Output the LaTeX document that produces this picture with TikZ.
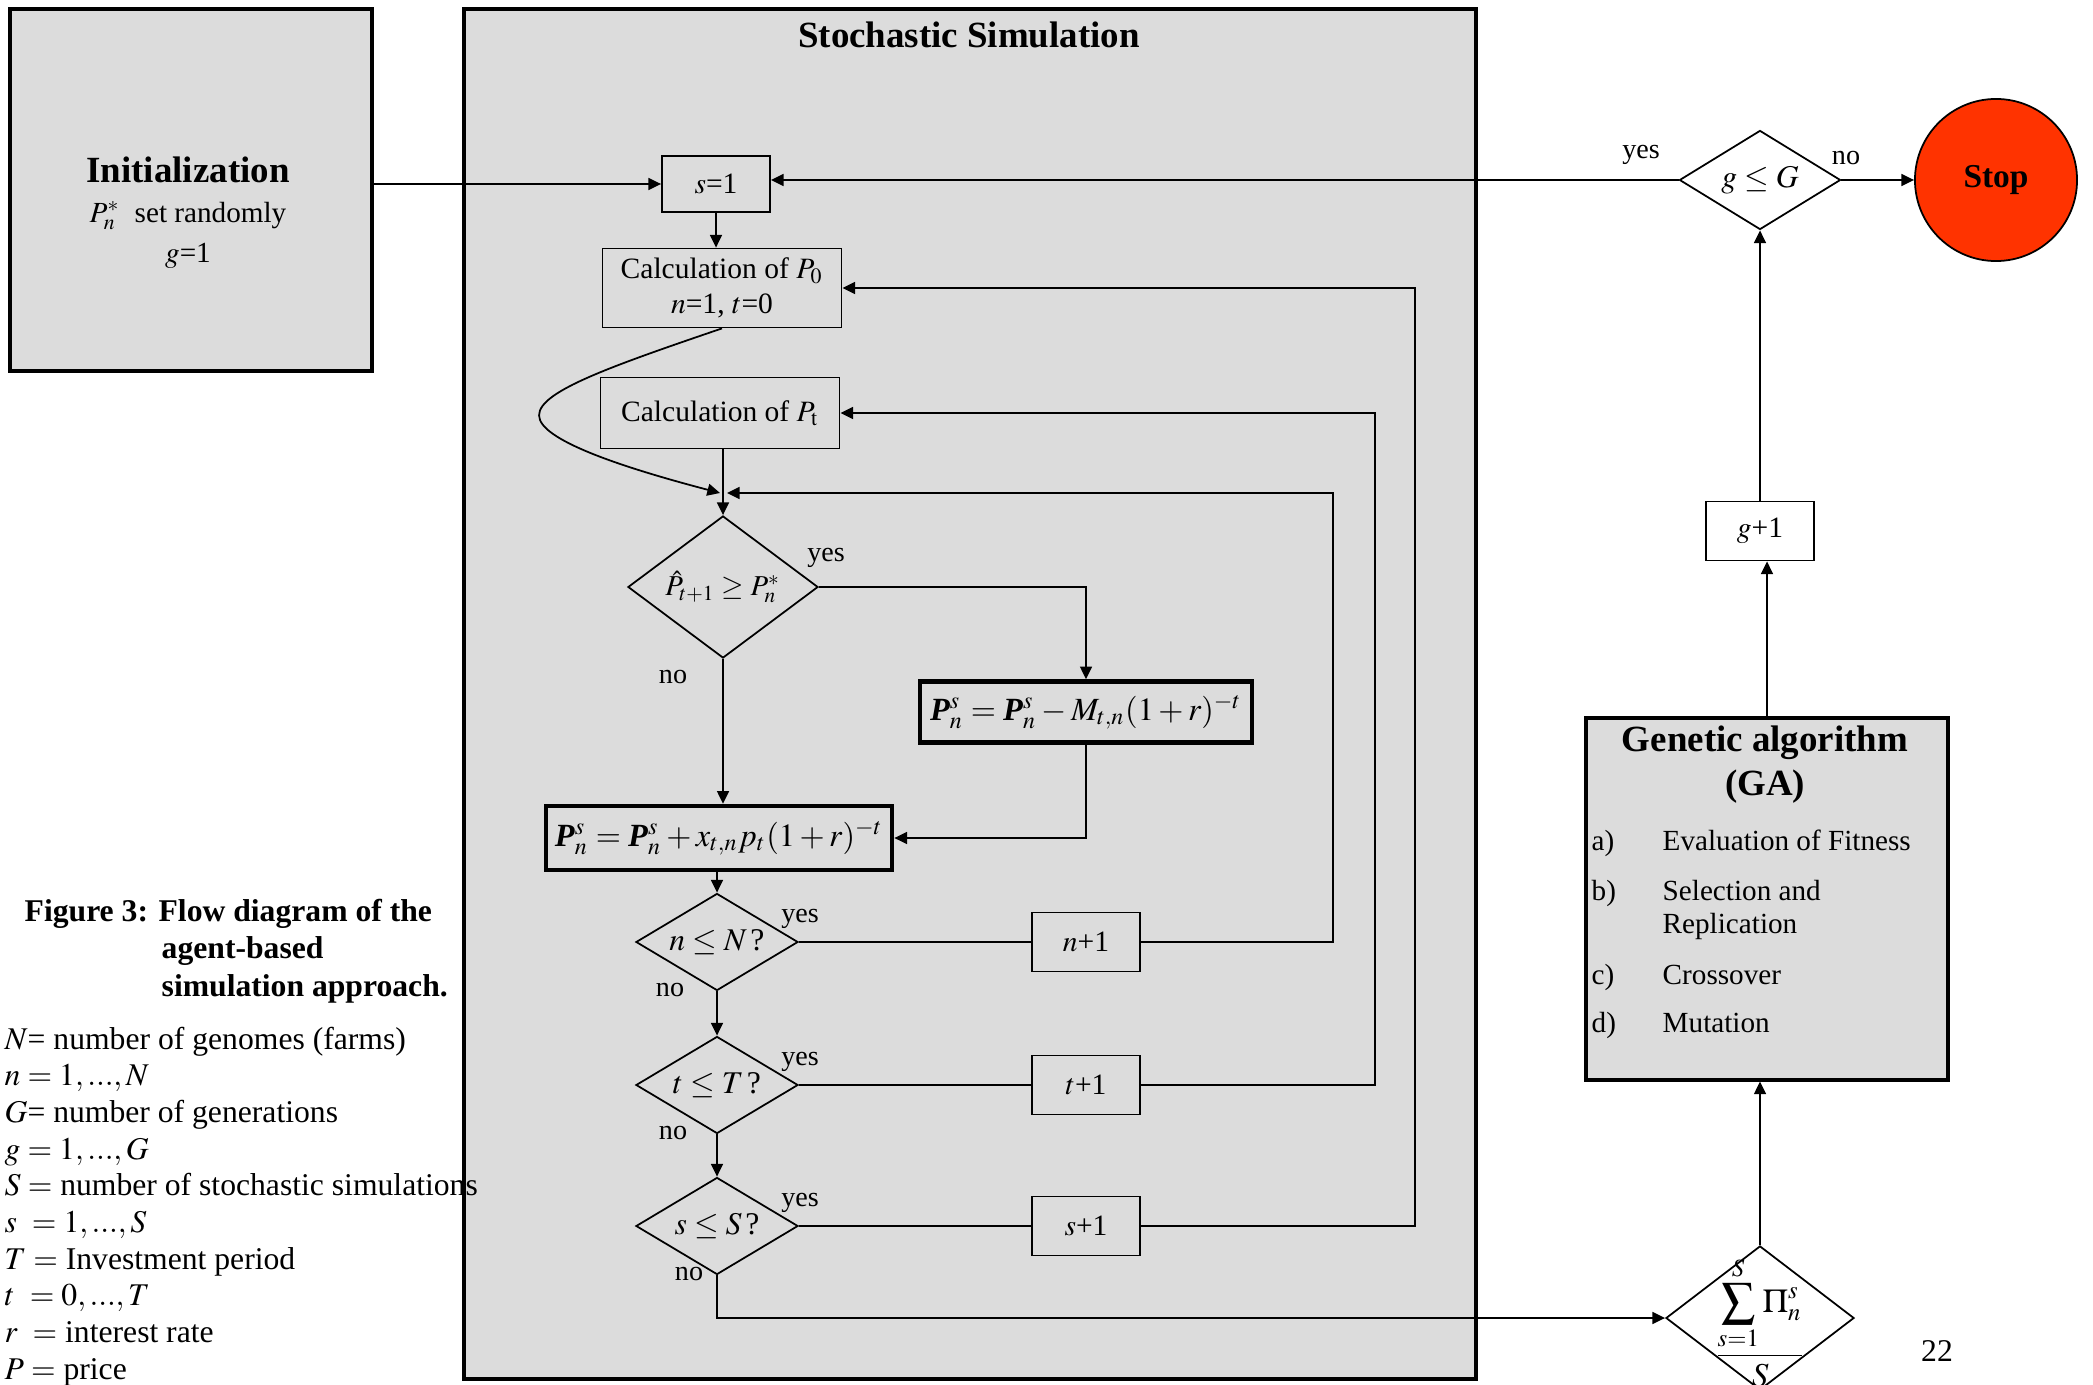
\documentclass[tikz,border=0pt]{standalone}
\usepackage{amsmath}
\usepackage{mathptmx}
\usepackage[no-math]{fontspec}
\setmainfont{Liberation Serif}
\usetikzlibrary{shapes.geometric, arrows.meta, positioning, calc}
\definecolor{BoxGray}{HTML}{DCDCDC}
\definecolor{StopRed}{HTML}{FF3300}

\begin{document}
\begin{tikzpicture}[x=0.01cm, y=-0.01cm,
  bigbox/.style={draw, line width=1.1pt, fill=BoxGray, inner sep=0pt},
  stepbox/.style={draw, line width=0.5pt, inner sep=0pt, font=\fontsize{8.4}{10}\selectfont},
  eqbox/.style={draw, line width=1.3pt, inner sep=0pt, font=\fontsize{9.2}{11}\selectfont},
  dec/.style={diamond, draw, line width=0.5pt, inner sep=0pt, font=\fontsize{9}{11}\selectfont},
  flow/.style={line width=0.5pt, -{Triangle[length=3.6pt, width=3.4pt]}},
  link/.style={line width=0.5pt},
  yn/.style={font=\fontsize{8}{9}\selectfont},
  ttl/.style={font=\bfseries\fontsize{10.5}{12.5}\selectfont, align=center},
  txt/.style={inner sep=0pt, font=\fontsize{8.3}{10}\selectfont},
  legtxt/.style={inner sep=0pt, anchor=base west, font=\fontsize{9}{11}\selectfont}]
\useasboundingbox (0,0) rectangle (2093,1385);

% Frames
\node[bigbox, minimum width=3.62cm, minimum height=3.61cm] (init) at (191,190) {};
\node[bigbox, minimum width=10.11cm, minimum height=13.69cm] (stoch) at (970,694) {};
\node[bigbox, minimum width=3.62cm, minimum height=3.61cm] (ga) at (1767,899) {};

% Titles
\node[ttl] (inittitle) at (188,170) {Initialization};
\node[txt] (initp) at (188,216) {$P_n^{*}$\ \ set randomly};
\node[txt] (initg) at (188,256) {$g$=1};
\node[ttl] (stochtitle) at (969,35) {Stochastic Simulation};
\node[ttl] (gatitle) at (1765,765) {Genetic algorithm\\(GA)};

% Simulation chain
\node[stepbox, minimum width=1.08cm, minimum height=0.56cm] (s1) at (716,184) {$s$=1};
\node[stepbox, minimum width=2.39cm, minimum height=0.79cm, align=center] (p0) at (722,288) {Calculation of $P_0$\\$n$=1, $t$=0};
\node[stepbox, minimum width=2.39cm, minimum height=0.71cm] (pt) at (720,413) {Calculation of $P_{\mathrm{t}}$};
\coordinate (merge) at (723,493);
\node[dec, aspect=1.3, minimum width=1.9cm, minimum height=1.42cm, font=\fontsize{8.2}{10}\selectfont] (d1) at (723,587) {$\hat{P}_{t+1}\geq P_n^{*}$};
\node[eqbox, minimum width=3.32cm, minimum height=0.61cm] (eqa) at (1086,712) {$\textbf{\textit{P}}_n^s=\textbf{\textit{P}}_n^s-M_{t,n}(1+r)^{-t}$};
\node[eqbox, minimum width=3.46cm, minimum height=0.64cm] (eqb) at (719,838) {$\textbf{\textit{P}}_n^s=\textbf{\textit{P}}_n^s+x_{t,n}p_t(1+r)^{-t}$};
\node[yn] (d1yes) at (826,558) {yes};
\node[yn] (d1no) at (673,677) {no};

% Loop decisions
\foreach \v/\V/\y/\nm/\nx in {n/N/942/n/670, t/T/1085/t/673, s/S/1226/s/689} {
  \node[dec, aspect=1.7, minimum width=1.62cm, minimum height=0.97cm] (\nm d) at (717,\y) {$\v\leq\V\,$?};
  \node[stepbox, minimum width=1.08cm, minimum height=0.59cm] (\nm inc) at (1086,\y) {$\v$+1};
  \draw[link] (\nm d.east) -- (\nm inc.west);
  \node[yn] (\nm yes) at (800,\y-23) {yes};
  \node[yn] (\nm no) at (\nx,\y+48) {no};
}

% Connectors inside the simulation
\draw[flow] (init.east |- s1.west) -- (s1.west);
\draw[flow] (s1.south) -- (s1.south |- p0.north);
\draw[flow] (p0.south) .. controls (600,370) and (530,395) .. (540,420) .. controls (550,445) and (640,472) .. ($(merge)+(-3,0)$);
\draw[flow] (pt.south -| d1.north) -- (d1.north);
\draw[flow] (d1.east) -| (eqa.north);
\draw[flow] (d1.south) -- (d1.south |- eqb.north);
\draw[flow] (eqa.south) |- (eqb.east);
\draw[flow] (eqb.south -| nd.north) -- (nd.north);
\draw[flow] (nd.south) -- (td.north);
\draw[flow] (td.south) -- (sd.north);
\draw[flow] (ninc.east) -- ++(192,0) |- ($(merge)+(4,0)$);
\draw[flow] (tinc.east) -- ++(234,0) |- (pt.east);
\draw[flow] (sinc.east) -- ++(274,0) |- (p0.east);

% Genetic algorithm side
\node[dec, fill=white, minimum width=1.88cm, minimum height=1.44cm] (sum) at (1760,1318) {};
\node[font=\fontsize{9.5}{11}\selectfont] (sumtxt) at (1760,1322) {$\displaystyle\frac{\displaystyle\sum_{s=1}^{S}\Pi_n^{s}}{S}$};
\draw[flow] (sd.south) |- (sum.west);
\draw[flow] (sum.north) -- (sum.north |- ga.south);
\node[stepbox, minimum width=1.08cm, minimum height=0.59cm] (ginc) at (1760,531) {$g$+1};
\draw[flow] (ga.north) -- (ga.north |- ginc.south);
\node[dec, fill=white, aspect=2, minimum width=1.61cm, minimum height=0.99cm] (gd) at (1760,180) {$g\leq G$};
\draw[flow] (ginc.north) -- (gd.south);
\draw[flow] (gd.west) -- (gd.west -| s1.east);
\node[circle, draw, line width=0.5pt, fill=StopRed, minimum size=1.62cm, font=\bfseries\fontsize{9.5}{11}\selectfont] (stop) at (1996,180) {Stop};
\draw[flow] (gd.east) -- (stop.west);
\node[yn] (gyes) at (1641,155) {yes};
\node[yn] (gno) at (1846,158) {no};
\foreach \k/\item/\y in {a/{Evaluation of Fitness}/842, b/{Selection and}/892, c/Crossover/976, d/Mutation/1024} {
  \node[txt, anchor=base west] (ga\k) at (1591,\y+8) {\k)};
  \node[txt, anchor=base west] (ga\k txt) at (1662,\y+8) {\item};
}
\node[txt, anchor=base west] (garep) at (1662,933) {Replication};

% Caption and legend
\node[inner sep=0pt, anchor=base west, font=\bfseries\fontsize{9}{11}\selectfont] (cap1) at (24,921) {Figure 3: Flow diagram of the};
\node[inner sep=0pt, anchor=base west, font=\bfseries\fontsize{9}{11}\selectfont] (cap2) at (161,958) {agent-based};
\node[inner sep=0pt, anchor=base west, font=\bfseries\fontsize{9}{11}\selectfont] (cap3) at (161,996) {simulation approach.};
\foreach \i/\line in {0/{$N$= number of genomes (farms)}, 1/{$n=1,...,N$}, 2/{$G$= number of generations}, 3/{$g=1,...,G$}, 4/{$S=$ number of stochastic simulations}, 5/{$s\ =1,...,S$}, 6/{$T=$ Investment period}, 7/{$t\ =0,...,T$}, 8/{$r\ =$ interest rate}, 9/{$P=$ price}}
  \node[legtxt] (leg\i) at (4,{1049+\i*36.7}) {\line};
\node[font=\fontsize{9}{11}\selectfont] (pagenum) at (1937,1351) {22};
\end{tikzpicture}
\end{document}
